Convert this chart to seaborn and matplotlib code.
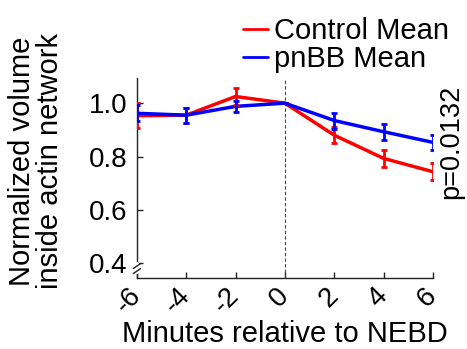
import numpy as np
import pandas as pd
import matplotlib
matplotlib.use("Agg")
import matplotlib.pyplot as plt
import seaborn as sns

minutes = [-6, -4, -2, 0, 2, 4, 6]
control_mean = [0.953, 0.955, 1.025, 1.0, 0.88, 0.793, 0.743]
control_err = [0.047, 0.028, 0.03, 0.0, 0.03, 0.033, 0.032]
pnbb_mean = [0.962, 0.955, 0.988, 1.0, 0.935, 0.893, 0.853]
pnbb_err = [0.03, 0.028, 0.021, 0.0, 0.03, 0.03, 0.027]
yticks = [0.4, 0.6, 0.8, 1.0]

sns.set_style("white")
plt.rcParams["font.family"] = ["Liberation Sans", "DejaVu Sans"]
plt.rcParams["text.color"] = "black"
plt.rcParams["axes.labelcolor"] = "black"

df = pd.DataFrame({
    "minutes": minutes * 2,
    "value": control_mean + pnbb_mean,
    "group": ["Control Mean"] * len(minutes) + ["pnBB Mean"] * len(minutes),
})
colors = {"Control Mean": "#ff0000", "pnBB Mean": "#0000ff"}

fig = plt.figure(figsize=(4.67, 3.49), dpi=100)
ax = fig.add_axes([0.293, 0.203, 0.634, 0.574])

ax.axvline(0, color="#444444", lw=0.8, ls=(0, (3, 2)), zorder=1)
sns.lineplot(data=df, x="minutes", y="value", hue="group", palette=colors,
             lw=2.5, ax=ax, zorder=3)
ax.errorbar(minutes, control_mean, yerr=control_err, fmt="none",
            ecolor="#ff0000", elinewidth=2, capsize=2.5, capthick=2, zorder=3)
ax.errorbar(minutes, pnbb_mean, yerr=pnbb_err, fmt="none",
            ecolor="#0000ff", elinewidth=2, capsize=2.5, capthick=2, zorder=4)

ax.set_xlim(-6, 6)
ax.set_ylim(0.344, 1.095)
ax.set_xticks(minutes)
ax.set_xticklabels([str(m) for m in minutes], rotation=45, fontsize=20,
                   ha="right", va="center", rotation_mode="anchor")
ax.set_yticks(yticks)
ax.set_yticklabels(["%.1f" % v for v in yticks], fontsize=20)
ax.tick_params(direction="in", length=4, width=1, colors="#222222",
               labelcolor="black", bottom=True, left=True)
ax.tick_params(axis="y", pad=7)
ax.tick_params(axis="x", pad=10)
ax.set_xlabel("Minutes relative to NEBD", fontsize=21, labelpad=1)
ax.set_ylabel("Normalized volume\ninside actin network", fontsize=21,
              linespacing=1.0)
ax.yaxis.set_label_coords(-0.245, 0.585)
for s in ["top", "right"]:
    ax.spines[s].set_visible(False)
for s in ["left", "bottom"]:
    ax.spines[s].set_color("#222222")
    ax.spines[s].set_linewidth(1)

# axis break marks on the y axis
tr = ax.transAxes
ax.plot([0, 0], [0.03, 0.07], color="white", lw=3, transform=tr, clip_on=False, zorder=5)
for y0 in [0.035, 0.06]:
    ax.plot([-0.012, 0.012], [y0 - 0.012, y0 + 0.012], color="#222222", lw=1,
            transform=tr, clip_on=False, zorder=6)

leg = fig.legend(*ax.get_legend_handles_labels(), loc="upper left",
                 bbox_to_anchor=(0.483, 1.0), frameon=False,
                 fontsize=21, handlelength=0.85, handletextpad=0.2,
                 labelspacing=0.0, borderpad=0.1)
ax.get_legend().remove()
for h in leg.get_lines():
    h.set_linewidth(2)

fig.text(0.966, 0.593, "p=0.0132", rotation=90, fontsize=19.5,
         ha="center", va="center")

fig.savefig("out.png", dpi=100)
